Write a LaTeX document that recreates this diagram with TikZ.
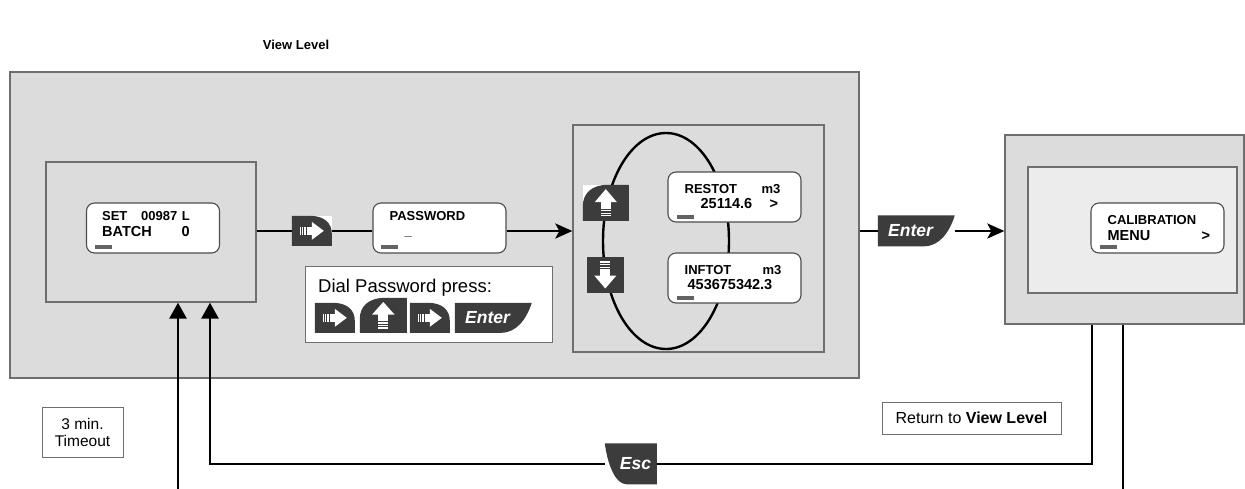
\documentclass[tikz,border=0pt]{standalone}
\usepackage{fontspec}
\setmainfont{Liberation Sans}
\usepackage{tikz}
\usetikzlibrary{positioning,arrows.meta,calc,shapes.geometric}
\definecolor{panelgray}{HTML}{DCDCDC}
\definecolor{panellight}{HTML}{ECECEC}
\definecolor{edgegray}{HTML}{6E6E6E}
\definecolor{keygray}{HTML}{3C3C3C}
\newcommand{\lcdfont}{\fontsize{13}{14}\selectfont\bfseries}
\newcommand{\lcdbig}{\fontsize{14.5}{16}\selectfont\bfseries}
\newcommand{\keyfont}{\fontsize{17.5}{18}\selectfont\bfseries\itshape}
% key faces: node name, width, height
\newcommand{\keyRight}[3]{%
  \begin{scope}[shift={(#1.north west)}, x=#2pt, y=-#3pt]
    \fill[keygray] (0,0) -- (0.45,0) .. controls (0.82,0) and (1,0.25) .. (1,0.6)
      -- (1,1) -- (0,1) -- cycle;
    \fill[white] (0.5,0.2) -- (0.8,0.5) -- (0.5,0.8) -- cycle;
    \fill[white] (0.37,0.36) rectangle (0.51,0.64);
    \foreach \s in {0.2,0.255,0.31} {\fill[white] (\s,0.36) rectangle +(0.035,0.28);}
  \end{scope}}
\newcommand{\keyUp}[3]{%
  \begin{scope}[shift={(#1.north west)}, x=#2pt, y=-#3pt]
    \fill[keygray] (1,0) -- (0.55,0) .. controls (0.18,0) and (0,0.25) .. (0,0.6)
      -- (0,1) -- (1,1) -- cycle;
    \fill[white] (0.26,0.48) -- (0.5,0.12) -- (0.74,0.48) -- cycle;
    \fill[white] (0.39,0.47) rectangle (0.61,0.66);
    \foreach \s in {0.7,0.77,0.84} {\fill[white] (0.39,\s) rectangle +(0.22,0.04);}
  \end{scope}}
\newcommand{\keyDown}[3]{%
  \begin{scope}[shift={(#1.north west)}, x=#2pt, y=-#3pt]
    \fill[keygray] (0,0) rectangle (1,1);
    \foreach \s in {0.13,0.2,0.27} {\fill[white] (0.36,\s) rectangle +(0.28,0.04);}
    \fill[white] (0.36,0.34) rectangle (0.64,0.53);
    \fill[white] (0.2,0.52) -- (0.5,0.88) -- (0.8,0.52) -- cycle;
  \end{scope}}
\newcommand{\keyEnter}[3]{%
  \fill[keygray, shift={(#1.north west)}, x=#2pt, y=-#3pt]
    (0,0) -- (1,0) .. controls (0.93,0.55) and (0.8,1) .. (0.6,1) -- (0,1) -- cycle;}
\newcommand{\keyEsc}[3]{%
  \fill[keygray, shift={(#1.north west)}, x=#2pt, y=-#3pt]
    (0,0) -- (1,0) -- (1,1) -- (0.42,1) .. controls (0.2,1) and (0.05,0.5) .. (0,0)
    -- cycle;}
\tikzset{
  panel_g/.style = {draw=edgegray, line width=1.3pt, fill=panelgray, inner sep=0pt},
  lcd_w/.style = {draw=edgegray!70!black, line width=1.1pt, fill=white,
    rounded corners=8pt, minimum width=133pt, minimum height=50pt, inner sep=0pt},
  lcd_t/.style = {inner sep=0pt, font=\lcdfont},
  lcd_b/.style = {inner sep=0pt, font=\lcdbig},
  lcd_tag/.style = {fill=keygray!80},
  note_w/.style = {draw=edgegray, line width=1pt, fill=white, inner sep=0pt,
    align=center},
  link/.style = {line width=2.6pt},
  up_tip/.style = {-{Triangle[length=16pt,width=17pt]}},
  key_w/.style 2 args = {inner sep=0pt, fill=white, minimum width=#1pt,
    minimum height=#2pt},
  key_txt/.style = {inner sep=0pt, text=white, font=\keyfont}
}
\begin{document}
\begin{tikzpicture}[x=1pt, y=-1pt, >={Stealth[length=17pt,width=15pt,inset=4pt]}]
\useasboundingbox[fill=white] (0,0) rectangle (1245,488);
\node[font=\fontsize{13}{15}\selectfont\bfseries] (title) at (296,45) {View Level};
% view level panel
\node[panel_g, minimum width=849pt, minimum height=306pt] (view) at (434.5,225) {};
\node[panel_g, minimum width=210pt, minimum height=140pt] (frameA) at (151,232) {};
\node[lcd_w] (lcdA) at (153,228) {};
\node[lcd_t, anchor=base west] (setA) at ($(lcdA.north west)+(16,18)$) {SET};
\node[lcd_t, anchor=base west] (volA) at ($(lcdA.north west)+(55,18)$) {00987};
\node[lcd_t, anchor=base east] (unitA) at ($(lcdA.north west)+(104,18)$) {L};
\node[lcd_b, anchor=base west] (batchA) at ($(lcdA.north west)+(16,34)$) {BATCH};
\node[lcd_b, anchor=base east] (cntA) at ($(lcdA.north west)+(104,34)$) {0};
\fill[lcd_tag] ($(lcdA.south west)+(9,-9)$) rectangle +(17,4);
\node[key_w={40}{30}] (keyA) at (312,231) {};
\keyRight{keyA}{40}{30}
\node[lcd_w] (lcdP) at (439.5,228) {};
\node[lcd_t, anchor=base west] (pwdP) at ($(lcdP.north west)+(17,18)$) {PASSWORD};
\node[lcd_t, anchor=base west] (curP) at ($(lcdP.north west)+(32,33)$) {\_};
\fill[lcd_tag] ($(lcdP.south west)+(9,-9)$) rectangle +(17,4);
% password hint
\node[note_w, minimum width=247pt, minimum height=76pt] (dial) at (428.5,304) {};
\node[anchor=base west, inner sep=0pt, font=\fontsize{18.5}{20}\selectfont]
  (dialtxt) at (318,292) {Dial Password press:};
\node[key_w={40}{30}] (keyB1) at (335,318) {};
\keyRight{keyB1}{40}{30}
\node[key_w={47}{35}] (keyB2) at (383.5,315.5) {};
\keyUp{keyB2}{47}{35}
\node[key_w={40}{30}] (keyB3) at (430,318) {};
\keyRight{keyB3}{40}{30}
\node[key_w={77}{30}] (keyB4) at (493.5,318) {};
\keyEnter{keyB4}{77}{30}
\node[key_txt] (entB4) at ($(keyB4.center)+(-6,0)$) {Enter};
% totals loop
\node[panel_g, minimum width=251pt, minimum height=227pt] (ellbox) at (698.5,238.5) {};
\node[ellipse, draw=black, line width=2.4pt, minimum width=126pt,
  minimum height=216pt, inner sep=0pt] (loop) at (666,241) {};
\node[key_w={46}{36}] (keyUp) at (606,203) {};
\keyUp{keyUp}{46}{36}
\node[key_w={37}{36}, fill=none] (keyDn) at (605.5,275) {};
\keyDown{keyDn}{37}{36}
\node[lcd_w] (lcdR) at (734.5,197) {};
\node[lcd_t, anchor=base west] (resR) at ($(lcdR.north west)+(17,22)$) {RESTOT};
\node[lcd_t, anchor=base west] (unitR) at ($(lcdR.north west)+(94,22)$) {m3};
\node[lcd_b, anchor=base west] (valR) at ($(lcdR.north west)+(33,37)$) {25114.6};
\node[lcd_b, anchor=base west] (nextR) at ($(lcdR.north west)+(102,37)$) {>};
\fill[lcd_tag] ($(lcdR.south west)+(10,-8)$) rectangle +(17,4);
\node[lcd_w] (lcdI) at (734.5,278) {};
\node[lcd_t, anchor=base west] (infI) at ($(lcdI.north west)+(17,22)$) {INFTOT};
\node[lcd_t, anchor=base west] (unitI) at ($(lcdI.north west)+(95,22)$) {m3};
\node[lcd_b, anchor=base west] (valI) at ($(lcdI.north west)+(20,37)$) {453675342.3};
\fill[lcd_tag] ($(lcdI.south west)+(10,-8)$) rectangle +(17,4);
% calibration menu
\node[key_w={77}{31}] (keyEnt) at (916.5,231) {};
\keyEnter{keyEnt}{77}{31}
\node[key_txt] (entEnt) at ($(keyEnt.center)+(-6,0)$) {Enter};
\node[panel_g, minimum width=239pt, minimum height=189pt] (rbox) at (1124.5,229.5) {};
\node[panel_g, fill=panellight, minimum width=209pt, minimum height=126pt]
  (rinner) at (1132.5,230) {};
\node[lcd_w] (lcdC) at (1157.5,228) {};
\node[lcd_t, anchor=base west] (calC) at ($(lcdC.north west)+(17,22)$) {CALIBRATION};
\node[lcd_b, anchor=base west] (menuC) at ($(lcdC.north west)+(17,38)$) {MENU};
\node[lcd_b, anchor=base west] (nextC) at ($(lcdC.north west)+(111,38)$) {>};
\fill[lcd_tag] ($(lcdC.south west)+(10,-9)$) rectangle +(17,4);
% notes and return path
\node[note_w, minimum width=81pt, minimum height=50pt,
  font=\fontsize{15.5}{17}\selectfont] (tmo) at (82.5,432) {3 min.\\Timeout};
\node[note_w, minimum width=179pt, minimum height=32pt,
  font=\fontsize{16}{18}\selectfont] (ret) at (971.5,418) {Return to \textbf{View Level}};
\node[key_w={52}{41}] (esc) at (631,464) {};
\keyEsc{esc}{52}{41}
\node[key_txt] (escTxt) at ($(esc.center)+(4.5,0)$) {Esc};
\coordinate (upA) at (210,464);
\coordinate (dnA) at (1092,464);
\coordinate (tmoL) at (178,492);
\coordinate (tmoR) at (1123,492);
% connectors
\draw[link] (frameA.east |- keyA) -- (keyA.west);
\draw[link] (keyA.east) -- (lcdP.west |- keyA);
\draw[link, ->] (lcdP.east |- keyA) -- (ellbox.west |- keyA);
\draw[link] (view.east |- keyEnt) -- (keyEnt.west);
\draw[link, ->] (keyEnt.east) -- (rbox.west |- keyEnt);
\draw[link] (rbox.south -| dnA) -- (dnA) -- (esc.east);
\draw[link, up_tip] (esc.west) -- (upA) -- (frameA.south -| upA);
\draw[link] (rbox.south -| tmoR) -- (tmoR);
\draw[link, up_tip] (tmoL) -- (frameA.south -| tmoL);
\end{tikzpicture}
\end{document}
